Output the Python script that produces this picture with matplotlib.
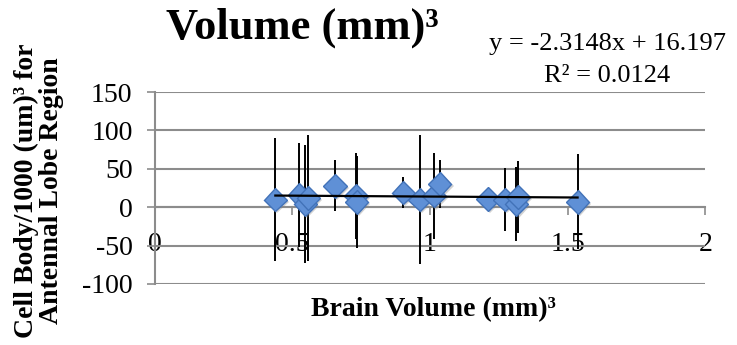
import numpy as np
import matplotlib
matplotlib.use("Agg")
import matplotlib.pyplot as plt
import matplotlib.patheffects as pe

# brain volume (mm^3) vs cell body / 1000 for antennal lobe region
brain_vol = [0.438, 0.525, 0.547, 0.558, 0.655, 0.731, 0.733, 0.903,
             0.962, 1.015, 1.035, 1.210, 1.272, 1.314, 1.320, 1.536]
cell_body = [10, 16, 4, 12, 28, 15, 7, 19, 10, 15, 30, 11, 10, 4, 13, 7]
err = [80, 68, 77, 82, 33, 56, 60, 20, 84, 56, 31, 8, 41, 48, 47, 62]

slope = -2.3148
intercept = 16.197
r2 = 0.0124

yticks = [-100, -50, 0, 50, 100, 150]
xticks = [0, 0.5, 1, 1.5, 2]
xticklabels = ['0', '0.5', '1', '1.5', '2']

plt.rcParams['font.family'] = ['Liberation Serif', 'DejaVu Serif']
plt.rcParams['axes.unicode_minus'] = False

fig = plt.figure(figsize=(7.37, 3.45), dpi=100)
ax = fig.add_axes([0.210, 0.177, 0.747, 0.556])

ax.errorbar(brain_vol, cell_body, yerr=err, fmt='none', ecolor='black',
            elinewidth=1.4, capsize=0, zorder=3)
ax.plot(brain_vol, cell_body, 'D', markersize=12, markerfacecolor='#5f90d6',
        markeredgecolor='#4272b8', markeredgewidth=1.0, zorder=4,
        path_effects=[pe.SimplePatchShadow(offset=(1.5, -1.5), shadow_rgbFace='gray', alpha=0.35),
                      pe.Normal()])

# trendline from the equation shown on the chart
xl = np.array([min(brain_vol), max(brain_vol)])
ax.plot(xl, slope * xl + intercept, color='black', linewidth=1.6, zorder=5)

ax.set_xlim(0, 2)
ax.set_ylim(-100, 150)
ax.set_yticks(yticks)
ax.set_xticks(xticks)
ax.set_xticklabels(xticklabels)
ax.grid(axis='y', color='#8c8c8c', linewidth=1.5)
ax.set_axisbelow(True)

for s in ['top', 'right']:
    ax.spines[s].set_visible(False)
ax.spines['left'].set_color('#8c8c8c')
ax.spines['left'].set_linewidth(1.5)
ax.spines['bottom'].set_position(('data', 0))
ax.spines['bottom'].set_color('#8c8c8c')
ax.spines['bottom'].set_linewidth(1.5)

ax.tick_params(axis='y', length=6, width=1.2, color='#8c8c8c', labelsize=20, pad=10)
ax.tick_params(axis='x', length=6, width=1.2, color='#8c8c8c', labelsize=20, pad=12)

fig.text(0.41, 0.92, 'Volume (mm)³', fontsize=32, fontweight='bold',
         ha='center', va='center')
fig.text(0.824, 0.872, 'y = -2.3148x + 16.197', fontsize=19, ha='center', va='center')
fig.text(0.824, 0.78, 'R² = %.4f' % r2, fontsize=19, ha='center', va='center')
fig.text(0.588, 0.104, 'Brain Volume (mm)³', fontsize=20, fontweight='bold',
         ha='center', va='center')
fig.text(0.053, 0.446, 'Cell Body/1000 (um)³ for\nAntennal Lobe Region',
         fontsize=20, fontweight='bold', rotation=90, ha='center', va='center',
         multialignment='center', linespacing=1.0)

plt.savefig('out.png', dpi=100)
